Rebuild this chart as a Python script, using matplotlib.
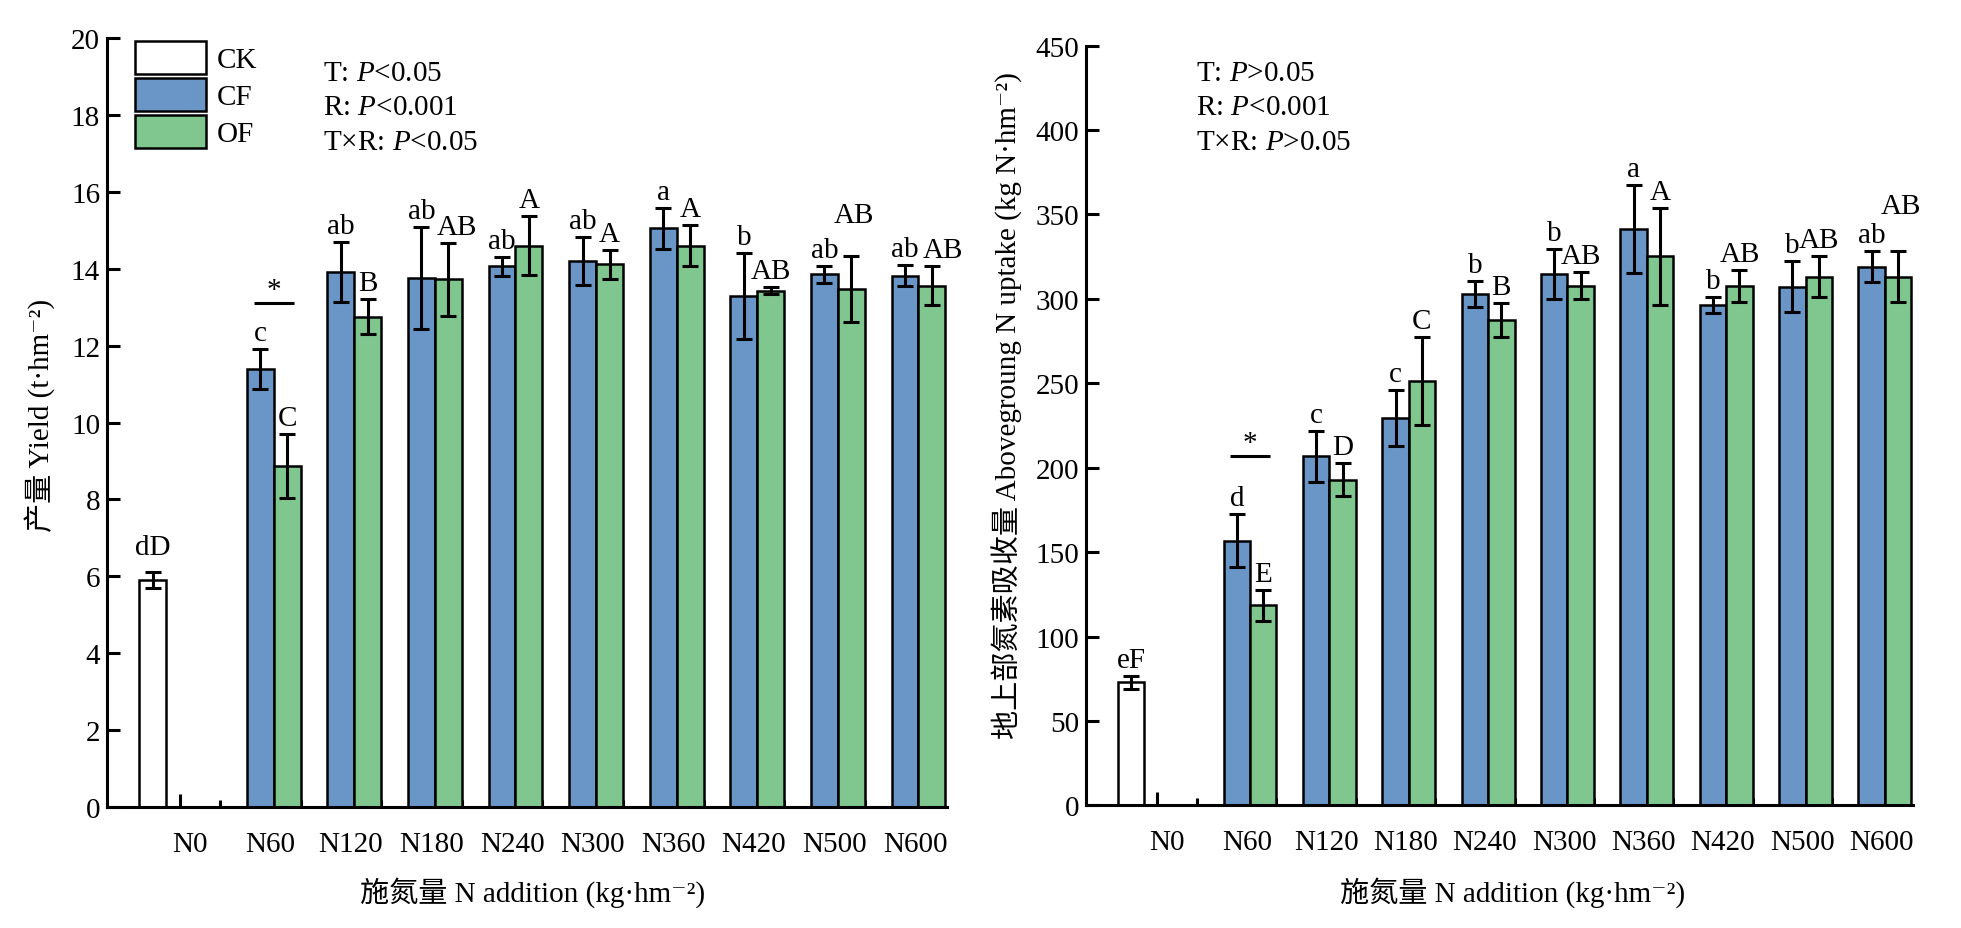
import matplotlib
matplotlib.use('Agg')
import matplotlib.pyplot as plt
import matplotlib.transforms as mtransforms
from matplotlib.ticker import FixedLocator, MultipleLocator
import numpy as np

plt.rcParams['font.family'] = ['Liberation Serif', 'Noto Sans CJK SC', 'DejaVu Serif']
plt.rcParams['mathtext.fontset'] = 'custom'
plt.rcParams['mathtext.rm'] = 'Liberation Serif'
plt.rcParams['mathtext.it'] = 'Liberation Serif:italic'
plt.rcParams['font.size'] = 21

# ---------------- data ----------------
groups = ['N0', 'N60', 'N120', 'N180', 'N240', 'N300', 'N360', 'N420', 'N500', 'N600']
treatments = ['CK', 'CF', 'OF']

ck_yield = 5.9
ck_yield_err = 0.2
ck_yield_letter = 'dD'
cf_yield = [11.39, 13.92, 13.76, 14.06, 14.20, 15.05, 13.29, 13.85, 13.82]
cf_yield_err = [0.52, 0.78, 1.33, 0.24, 0.62, 0.53, 1.13, 0.23, 0.27]
cf_yield_letters = ['c', 'ab', 'ab', 'ab', 'ab', 'a', 'b', 'ab', 'ab']
of_yield = [8.87, 12.75, 13.72, 14.60, 14.11, 14.60, 13.43, 13.48, 13.56]
of_yield_err = [0.84, 0.45, 0.96, 0.76, 0.37, 0.53, 0.09, 0.86, 0.50]
of_yield_letters = ['C', 'B', 'AB', 'A', 'A', 'A', 'AB', 'AB', 'AB']
yield_stats = [('T', '<0.05'), ('R', '<0.001'), ('T×R', '<0.05')]
yield_sig_y = 13.1

ck_uptake = 72.9
ck_uptake_err = 3.8
ck_uptake_letter = 'eF'
cf_uptake = [156.8, 206.8, 229.4, 302.9, 314.8, 341.2, 296.4, 307.2, 319.1]
cf_uptake_err = [15.7, 15.0, 16.5, 7.8, 14.7, 26.0, 4.8, 15.0, 9.0]
cf_uptake_letters = ['d', 'c', 'c', 'b', 'b', 'a', 'b', 'b', 'ab']
of_uptake = [118.5, 193.0, 251.2, 287.5, 307.8, 325.2, 307.5, 313.2, 313.2]
of_uptake_err = [9.2, 10.0, 26.0, 10.0, 8.0, 28.6, 9.6, 12.0, 15.0]
of_uptake_letters = ['E', 'D', 'C', 'B', 'AB', 'A', 'AB', 'AB', 'AB']
uptake_stats = [('T', '>0.05'), ('R', '<0.001'), ('T×R', '>0.05')]
uptake_sig_y = 206.8

# ---------------- style ----------------
C_CK = 'white'
C_CF = '#6A96C7'
C_OF = '#80C78F'
EDGE_LW = 1.8
W = 1.0 / 3
SUP = '⁻²'

fig = plt.figure(figsize=(19.61, 9.29), dpi=100)
ax1 = fig.add_axes([0.0546, 0.1302, 0.4283, 0.8278])
ax2 = fig.add_axes([0.5538, 0.1319, 0.4217, 0.8179])


def panel(ax, ck, ck_err, ck_lab, cf, cf_err, cf_lab, of, of_err, of_lab,
          ymax, ystep, ylabel, stats, stats_xy, sig_y, legend=False,
          ylab_xy=(-0.08, 0.5), xlab_xy=(0.51, -0.11), nudges=None,
          ck_lift=0):
    nudges = nudges or {}
    x = np.arange(len(groups))
    xn = x[1:]
    b0 = ax.bar(x[0] - W, ck, width=W, color=C_CK, edgecolor='black',
                linewidth=EDGE_LW, label=treatments[0], zorder=2)
    b1 = ax.bar(xn, cf, width=W, color=C_CF, edgecolor='black',
                linewidth=EDGE_LW, label=treatments[1], zorder=2)
    b2 = ax.bar(xn + W, of, width=W, color=C_OF, edgecolor='black',
                linewidth=EDGE_LW, label=treatments[2], zorder=2)
    ekw = dict(fmt='none', ecolor='black', elinewidth=2.2, capsize=5.5,
               capthick=2.2, zorder=3)
    ax.errorbar([x[0] - W], [ck], yerr=[ck_err], **ekw)
    ax.errorbar(xn, cf, yerr=cf_err, **ekw)
    ax.errorbar(xn + W, of, yerr=of_err, **ekw)

    akw = dict(textcoords='offset points', ha='center', va='baseline',
               fontsize=21, zorder=4)
    ax.annotate(ck_lab, (x[0] - W, ck + ck_err), xytext=(0, 6.5 + ck_lift), **akw)
    for i, (xi, v, e, lab) in enumerate(zip(xn, cf, cf_err, cf_lab)):
        ax.annotate(lab, (xi, v + e), xytext=(0, 6.5), **akw)
    for i, (xi, v, e, lab) in enumerate(zip(xn + W, of, of_err, of_lab)):
        dx, dy = nudges.get(i, (0, 0))
        ax.annotate(lab, (xi, v + e), xytext=(dx, 6.5 + dy), **akw)

    # significance between CF and OF at N60
    xm = xn[0] + W / 2
    ax.plot([xm - 0.25, xm + 0.25], [sig_y, sig_y], color='black', lw=2.2,
            solid_capstyle='butt', zorder=4)
    ax.annotate('*', (xm, sig_y), xytext=(0, 4.5), textcoords='offset points',
                ha='center', va='baseline', fontsize=21)

    ax.set_xlim(-0.9, len(groups) - 0.48)
    ax.set_ylim(0, ymax)
    ax.yaxis.set_major_locator(MultipleLocator(ystep))
    ax.xaxis.set_major_locator(FixedLocator(x))
    ax.xaxis.set_minor_locator(FixedLocator(x[:-1] + 0.5))
    ax.set_xticklabels(groups)
    for sp in ['top', 'right']:
        ax.spines[sp].set_visible(False)
    for sp in ['left', 'bottom']:
        ax.spines[sp].set_linewidth(2.2)
    ax.tick_params(axis='y', direction='in', length=9.5, width=2.2,
                   labelsize=21, pad=5)
    ax.tick_params(axis='x', which='major', direction='in', length=9.5,
                   width=2.2, labelsize=21, pad=17)
    ax.tick_params(axis='x', which='minor', direction='in', length=5,
                   width=2.2)
    off = mtransforms.ScaledTranslation(10 / 100, 0, fig.dpi_scale_trans)
    for lbl in ax.get_xticklabels():
        lbl.set_transform(lbl.get_transform() + off)

    ax.set_ylabel(ylabel, fontsize=21)
    ax.yaxis.set_label_coords(*ylab_xy)
    ax.yaxis.label.set_va('center')
    ax.set_xlabel('施氮量 N addition (kg·hm' + SUP + ')', fontsize=21)
    ax.xaxis.set_label_coords(*xlab_xy)
    ax.xaxis.label.set_va('center')

    sx, sy0, dy = stats_xy
    for i, (name, p) in enumerate(stats):
        ax.text(sx, sy0 - i * dy, name + ': $\\mathit{P}$' + p,
                transform=ax.transAxes, ha='left', va='center', fontsize=21)

    if legend:
        ax.legend(handles=[b0, b1, b2], loc='upper left',
                  bbox_to_anchor=(0.0333, 0.9965), frameon=False,
                  borderpad=0, borderaxespad=0, handlelength=2.43,
                  handleheight=1.37, labelspacing=0.14, handletextpad=0.38,
                  fontsize=21)


panel(ax1, ck_yield, ck_yield_err, ck_yield_letter, cf_yield, cf_yield_err,
      cf_yield_letters, of_yield, of_yield_err, of_yield_letters,
      20, 2, '产量 Yield (t·hm' + SUP + ')', yield_stats, (0.2567, 0.9545, 0.0448),
      yield_sig_y, legend=True, ylab_xy=(-0.0798, 0.511),
      xlab_xy=(0.507, -0.1105),
      nudges={2: (6, 0), 7: (2, 18), 8: (8, 0)}, ck_lift=7)
panel(ax2, ck_uptake, ck_uptake_err, ck_uptake_letter, cf_uptake,
      cf_uptake_err, cf_uptake_letters, of_uptake, of_uptake_err,
      of_uptake_letters, 450, 50,
      '地上部氮素吸收量 Abovegroung N uptake (kg N·hm' + SUP + ')', uptake_stats,
      (0.133, 0.964, 0.0454), uptake_sig_y, legend=False,
      ylab_xy=(-0.0955, 0.527), xlab_xy=(0.516, -0.1138),
      nudges={8: (2, 21)})

fig.savefig('out.png', dpi=100)
